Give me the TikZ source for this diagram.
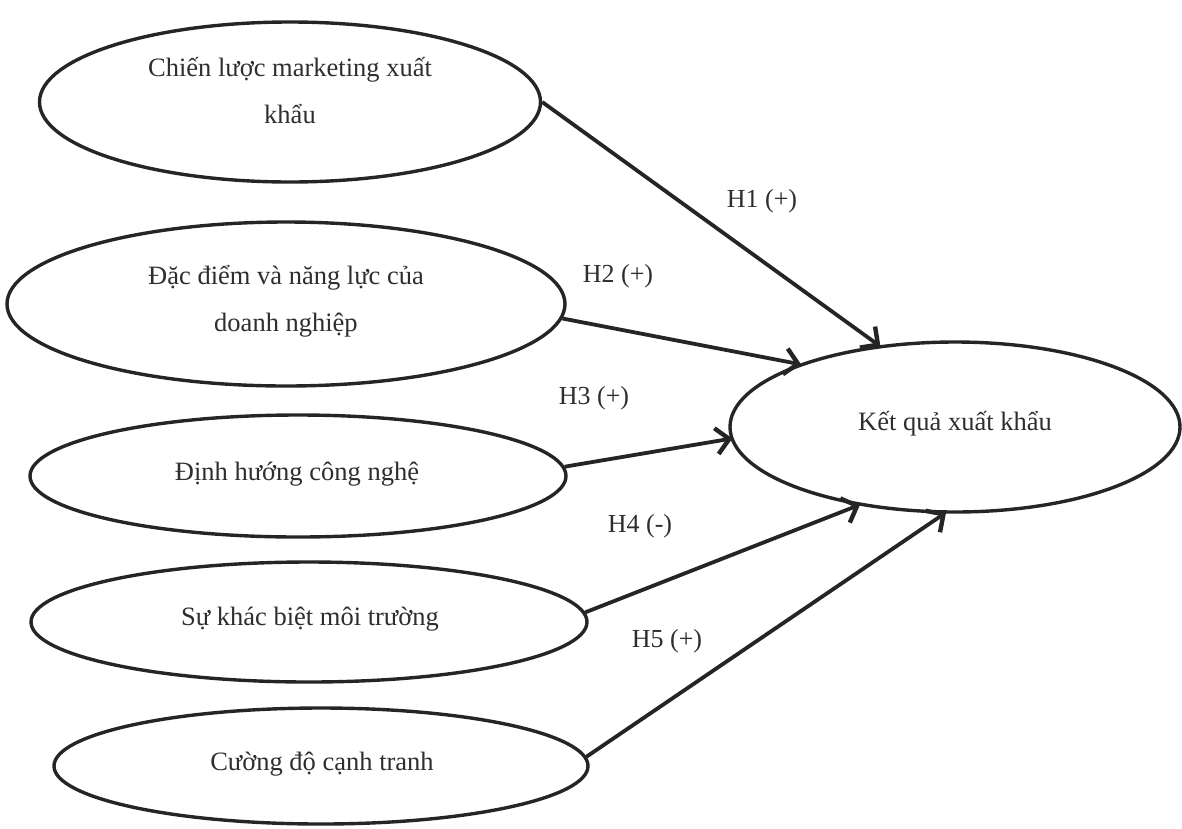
\documentclass[tikz,border=0pt]{standalone}
\usepackage{fontspec}
\setmainfont{Liberation Serif}
\usetikzlibrary{shapes.geometric,arrows.meta}
\definecolor{inkc}{HTML}{252525}
\definecolor{txtc}{HTML}{2E2E2E}
\begin{document}
\begin{tikzpicture}[x=1pt,y=-1pt,
  oval/.style={ellipse, draw=inkc, line width=3.4pt, inner sep=0pt},
  caption/.style={font=\fontsize{26.5}{47}\selectfont, text=txtc, align=center, inner sep=0pt, anchor=base},
  hyp/.style={font=\fontsize{26}{30}\selectfont, text=txtc, inner sep=0pt, anchor=base},
  link/.style={draw=inkc, line width=3.8pt, shorten >=-2pt, -{Straight Barb[length=13pt,width=26pt,line width=4.4pt]}}]
\fill[white] (0,0) rectangle (1182,828);
\useasboundingbox (0,0) rectangle (1182,828);

% factor ellipses
\node[oval, minimum width=501pt, minimum height=160pt] (e1) at (290,102) {};
\node[oval, minimum width=558pt, minimum height=164pt] (e2) at (286,304) {};
\node[oval, minimum width=536pt, minimum height=122pt] (e3) at (298,476) {};
\node[oval, minimum width=556pt, minimum height=120pt] (e4) at (309,622) {};
\node[oval, minimum width=534pt, minimum height=116pt] (e5) at (321,766) {};
% outcome ellipse
\node[oval, minimum width=450pt, minimum height=170pt] (e6) at (955,427) {};

% ellipse captions (base = baseline of the last line)
\node[caption] (t1) at (290,123) {Chiến lược marketing xuất\\khẩu};
\node[caption] (t2) at (286,331) {Đặc điểm và năng lực của\\doanh nghiệp};
\node[caption] (t3) at (297,480) {Định hướng công nghệ};
\node[caption] (t4) at (310,625) {Sự khác biệt môi trường};
\node[caption] (t5) at (322,770) {Cường độ cạnh tranh};
\node[caption] (t6) at (955,430) {Kết quả xuất khẩu};

% hypothesis paths
\draw[link] (e1.east) -- (e6.133);
\draw[link] (e2.-3) -- (e6.158);
\draw[link] (e3.2) -- (e6.183);
\draw[link] (e4.2) -- (e6.219);
\draw[link] (e5.2) -- (e6.263);

% hypothesis labels
\node[hyp] (h1) at (762,207) {H1 (+)};
\node[hyp] (h2) at (618,282) {H2 (+)};
\node[hyp] (h3) at (594,404) {H3 (+)};
\node[hyp] (h4) at (640,532) {H4 (-)};
\node[hyp] (h5) at (667,647) {H5 (+)};
\end{tikzpicture}
\end{document}
